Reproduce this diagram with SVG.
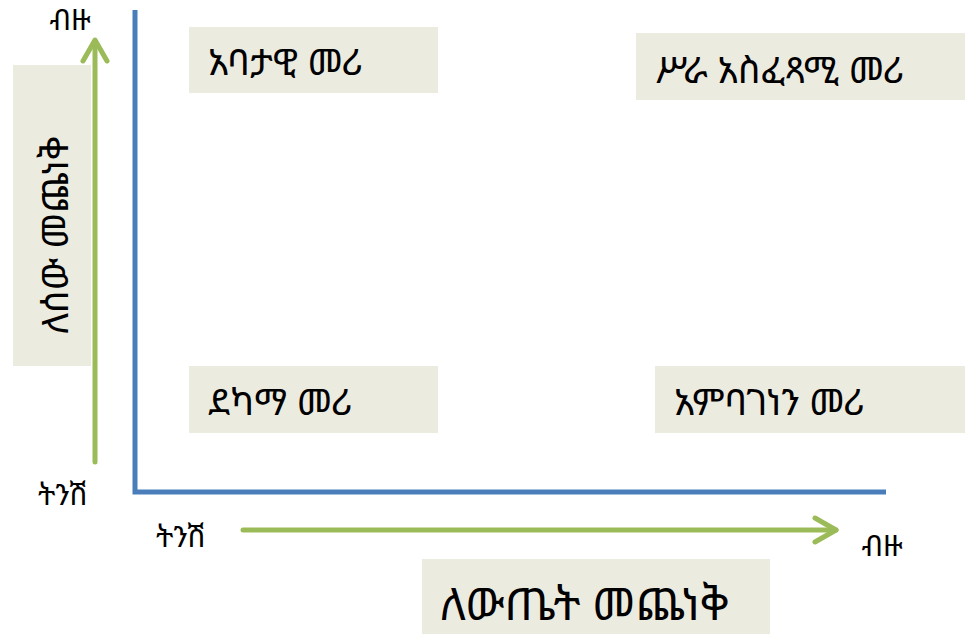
<svg xmlns="http://www.w3.org/2000/svg" width="965" height="634" viewBox="0 0 965 634">
<style>
.box{fill:#ecebe0}
.t{font-family:"Noto Sans Ethiopic","Abyssinica SIL","DejaVu Sans","Noto Sans",sans-serif;fill:#000}
.big{font-size:37px}
.sm{font-size:29px}
.axis{stroke:#4a7ebb;stroke-width:5;fill:none}
.arr{stroke:#9bbb59;stroke-width:5;fill:none;stroke-linecap:round;stroke-linejoin:round}
</style>
<rect width="965" height="634" fill="#fff"/>
<g id="axes">
<path class="axis" d="M135 10 V492 H886"/>
</g>
<g id="connectors">
<path class="arr" d="M95 462 V42"/>
<path class="arr" d="M83 61 L95 40 L107 61"/>
<path class="arr" d="M243 530 H836"/>
<path class="arr" d="M815 518 L836 530 L815 542"/>
</g>
<g id="y-label">
<rect class="box" x="13" y="65" width="78" height="301"/>
<text class="t" font-size="37" transform="translate(68 235) rotate(-90)" text-anchor="middle">ለሰው መጨነቅ</text>
</g>
<g id="y-high"><text class="t sm" x="70" y="30" text-anchor="middle">ብዙ</text></g>
<g id="y-low"><text class="t sm" x="63" y="505" text-anchor="middle">ትንሽ</text></g>
<g id="x-low"><text class="t sm" x="181" y="547" text-anchor="middle">ትንሽ</text></g>
<g id="x-high"><text class="t sm" x="882" y="556" text-anchor="middle">ብዙ</text></g>
<g id="q1">
<rect class="box" x="189" y="27" width="249" height="66"/>
<text class="t big" x="208" y="75">አባታዊ መሪ</text>
</g>
<g id="q2">
<rect class="box" x="636" y="33" width="329" height="67"/>
<text class="t big" x="655" y="83">ሥራ አስፈጻሚ መሪ</text>
</g>
<g id="q3">
<rect class="box" x="189" y="366" width="249" height="67"/>
<text class="t big" x="208" y="415">ደካማ መሪ</text>
</g>
<g id="q4">
<rect class="box" x="655" y="366" width="310" height="67"/>
<text class="t big" x="674" y="415">አምባገነን መሪ</text>
</g>
<g id="x-label">
<rect class="box" x="422" y="559" width="348" height="75"/>
<text class="t" font-size="45" x="440" y="620">ለውጤት መጨነቅ</text>
</g>
</svg>
